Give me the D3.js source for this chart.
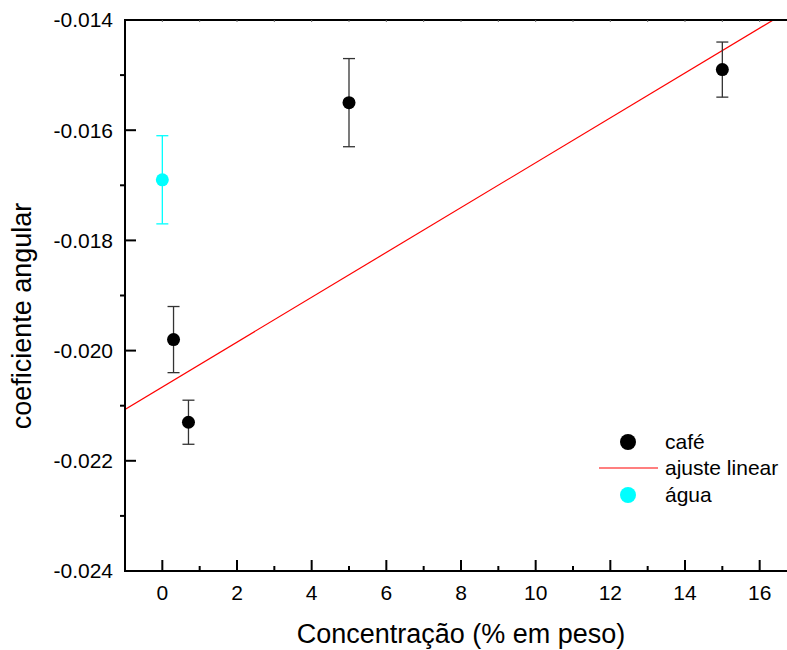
<!DOCTYPE html>
<html><head><meta charset="utf-8">
<script src="https://cdn.jsdelivr.net/npm/d3@7"></script>
<style>body{margin:0;background:#fff}svg{display:block;font-family:"Liberation Sans",Arial,sans-serif}</style>
</head><body>
<svg id="c" width="787" height="650"></svg>
<script>
// Data
const cafeX = [0.3, 0.7, 5, 15];
const cafeY = [-0.0198, -0.0213, -0.0155, -0.0149];
const cafeErr = [0.0006, 0.0004, 0.0008, 0.0005];
const aguaX = [0];
const aguaY = [-0.0169];
const aguaErr = [0.0008];
const fitSlope = 0.000407;
const fitIntercept = -0.02066;
const xTicks = [0, 2, 4, 6, 8, 10, 12, 14, 16];
const yTicks = [-0.024, -0.022, -0.020, -0.018, -0.016, -0.014];
const legendLabels = ["café", "ajuste linear", "água"];

const svg = d3.select("#c");
const L = 125, R = 797, T = 20, B = 571;
const x = d3.scaleLinear().domain([-1, 17]).range([L, R]);
const y = d3.scaleLinear().domain([-0.024, -0.014]).range([B, T]);

svg.append("defs").append("clipPath").attr("id", "clip")
  .append("rect").attr("x", L).attr("y", T).attr("width", R - L).attr("height", B - T);

// Fit line
const fx = [-1, 17];
svg.append("line").attr("clip-path", "url(#clip)")
  .attr("x1", x(fx[0])).attr("y1", y(fitIntercept + fitSlope * fx[0]))
  .attr("x2", x(fx[1])).attr("y2", y(fitIntercept + fitSlope * fx[1]))
  .attr("stroke", "#ff0000").attr("stroke-width", 1.2);

function drawSeries(xs, ys, es, color, barColor) {
  const g = svg.append("g");
  xs.forEach((xv, i) => {
    const cx = x(xv), y1 = y(ys[i] + es[i]), y2 = y(ys[i] - es[i]);
    g.append("line").attr("x1", cx).attr("x2", cx).attr("y1", y1).attr("y2", y2).attr("stroke", barColor).attr("stroke-width", 1.3);
    g.append("line").attr("x1", cx - 6).attr("x2", cx + 6).attr("y1", y1).attr("y2", y1).attr("stroke", barColor).attr("stroke-width", 1.3);
    g.append("line").attr("x1", cx - 6).attr("x2", cx + 6).attr("y1", y2).attr("y2", y2).attr("stroke", barColor).attr("stroke-width", 1.3);
    g.append("circle").attr("cx", cx).attr("cy", y(ys[i])).attr("r", 6.5).attr("fill", color);
  });
}
drawSeries(cafeX, cafeY, cafeErr, "#000", "#333");
drawSeries(aguaX, aguaY, aguaErr, "#00ffff", "#00ffff");

// Axes
const ax = svg.append("g").attr("stroke", "#000").attr("fill", "none");
ax.append("line").attr("x1", L).attr("x2", 787).attr("y1", T).attr("y2", T).attr("stroke-width", 2);
ax.append("line").attr("x1", L).attr("x2", 787).attr("y1", B).attr("y2", B).attr("stroke-width", 2);
ax.append("line").attr("x1", L).attr("x2", L).attr("y1", T - 1).attr("y2", B + 1).attr("stroke-width", 2);

// bottom ticks (inward)
const xMinor = d3.range(-1, 18, 1).filter(v => !xTicks.includes(v) && v > -1);
xTicks.forEach(v => ax.append("line").attr("x1", x(v)).attr("x2", x(v)).attr("y1", B).attr("y2", B - 11).attr("stroke-width", 2));
xMinor.forEach(v => ax.append("line").attr("x1", x(v)).attr("x2", x(v)).attr("y1", B).attr("y2", B - 5).attr("stroke-width", 2));
// top ticks (small inward)
d3.range(0, 18, 1).forEach(v => ax.append("line").attr("x1", x(v)).attr("x2", x(v)).attr("y1", T).attr("y2", T + 2).attr("stroke", "#666").attr("stroke-width", 1));
// left ticks: major inward, minor outward
yTicks.forEach(v => ax.append("line").attr("x1", L).attr("x2", L + 11).attr("y1", y(v)).attr("y2", y(v)).attr("stroke-width", 2));
[-0.023, -0.021, -0.019, -0.017, -0.015].forEach(v => ax.append("line").attr("x1", L).attr("x2", L - 5).attr("y1", y(v)).attr("y2", y(v)).attr("stroke-width", 2));

// tick labels
svg.append("g").selectAll("text").data(xTicks).join("text")
  .attr("x", d => x(d)).attr("y", 600).attr("text-anchor", "middle")
  .attr("font-size", 21).text(d => d3.format("d")(d));
svg.append("g").selectAll("text").data(yTicks).join("text")
  .attr("x", 113).attr("y", d => y(d)).attr("dy", "0.35em").attr("text-anchor", "end")
  .attr("font-size", 21).text(d => d3.format(".3f")(d).replace("−", "-"));

// axis titles
svg.append("text").attr("x", 461).attr("y", 643).attr("text-anchor", "middle").attr("font-size", 27).text("Concentração (% em peso)");
svg.append("text").attr("transform", "translate(31,316) rotate(-90)").attr("text-anchor", "middle").attr("font-size", 27).text("coeficiente angular");

// legend
const lg = svg.append("g");
lg.append("circle").attr("cx", 628).attr("cy", 442).attr("r", 8).attr("fill", "#000");
lg.append("line").attr("x1", 599).attr("x2", 658).attr("y1", 468).attr("y2", 468).attr("stroke", "#ff0000").attr("stroke-width", 1.2);
lg.append("circle").attr("cx", 628).attr("cy", 495).attr("r", 8).attr("fill", "#00ffff");
[442, 468, 495].forEach((yy, i) => lg.append("text").attr("x", 665).attr("y", yy).attr("dy", "0.35em").attr("font-size", 21).text(legendLabels[i]));
</script>
</body></html>
